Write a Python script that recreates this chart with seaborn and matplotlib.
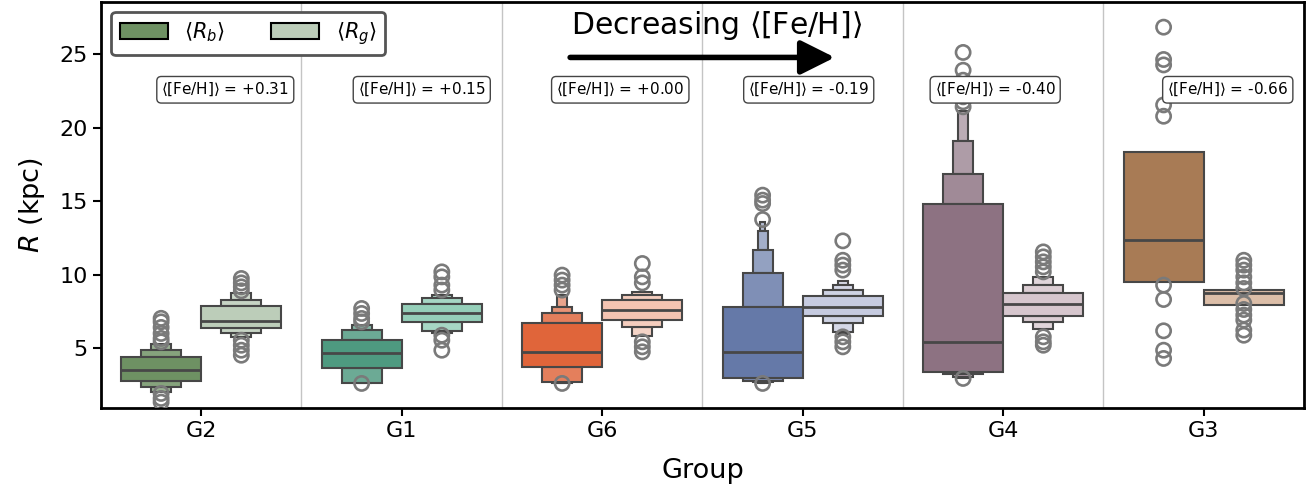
import numpy as np
import matplotlib.pyplot as plt
import seaborn as sns
from matplotlib.colors import to_rgb
from matplotlib.patches import Patch

# groups, ordered by decreasing mean metallicity
groups = ["G2", "G1", "G6", "G5", "G4", "G3"]
feh_labels = ["+0.31", "+0.15", "+0.00", "-0.19", "-0.40", "-0.66"]

colors_b = ["#6e9163", "#4e9a80", "#e0653a", "#6579a8", "#8d7282", "#a87b55"]
colors_g = ["#bccdb9", "#95cfb9", "#f4c4b2", "#c6cbe0", "#d6c6cd", "#dcbea8"]

# letter values (innermost box first)
rb_median = [3.50, 4.70, 4.73, 4.77, 5.41, 12.39]
rb_lower = [
    [2.78, 2.39, 2.05],
    [3.64, 2.66, 2.64],
    [3.75, 2.69, 2.66, 2.64],
    [2.96, 2.78, 2.72, 2.68, 2.65],
    [3.37, 3.25, 3.07, 3.00],
    [9.53],
]
rb_upper = [
    [4.43, 4.88, 5.27],
    [5.56, 6.24, 6.59],
    [6.70, 7.38, 7.83, 8.63],
    [7.79, 10.10, 11.69, 13.00, 13.61],
    [14.80, 16.84, 19.10, 21.14],
    [18.35],
]
rb_outliers = [
    [7.05, 6.81, 6.43, 6.02, 5.68, 5.45, 1.94, 1.60, 1.35],
    [7.72, 7.38, 7.04, 6.81, 2.62],
    [9.99, 9.65, 9.31, 8.97, 2.62],
    [15.43, 15.09, 14.86, 13.77, 2.62],
    [25.14, 23.93, 23.25, 22.12, 21.78, 21.44, 2.96],
    [26.86, 24.66, 24.29, 21.57, 20.80, 9.31, 8.33, 6.20, 4.88, 4.32],
]

rg_median = [6.88, 7.40, 7.65, 7.83, 8.01, 8.78]
rg_lower = [
    [6.36, 6.02, 5.75],
    [6.81, 6.18, 6.02],
    [6.93, 6.47, 5.84],
    [7.22, 6.70, 6.09, 5.95],
    [7.22, 6.77, 6.29],
    [7.95],
]
rg_upper = [
    [7.90, 8.29, 8.74],
    [8.01, 8.40, 8.63],
    [8.29, 8.63, 8.85],
    [8.56, 8.97, 9.35, 9.60],
    [8.74, 9.35, 9.87],
    [8.97],
]
rg_outliers = [
    [9.76, 9.46, 9.19, 8.92, 5.56, 5.22, 4.88, 4.54],
    [10.21, 9.87, 9.31, 8.97, 5.90, 5.56, 4.88],
    [10.78, 9.87, 9.46, 5.45, 5.11, 4.77],
    [12.32, 11.00, 10.67, 10.33, 5.79, 5.45, 5.11],
    [11.57, 11.23, 10.89, 10.55, 10.21, 5.79, 5.45, 5.22],
    [11.00, 10.67, 10.33, 9.87, 9.46, 9.08, 8.06, 7.65, 7.27, 6.93, 6.25, 5.90],
]

# where the [Fe/H] labels sit inside each group
label_x = [0.12, 1.10, 2.09, 3.03, 3.96, 5.12]

line_color = "#474747"
flier_color = "#7a7a7a"


def lighten(color, frac):
    c = np.array(to_rgb(color))
    light = np.array([0.96, 0.96, 0.96])
    return tuple(light + (c - light) * frac)


def draw_boxen(ax, x, lows, highs, median, fliers, color, width=0.4):
    shades = [1.0, 0.82, 0.68, 0.56, 0.46, 0.38]
    for lvl, (lo, hi) in enumerate(zip(lows, highs)):
        w = width * 0.5 ** lvl
        fc = lighten(color, shades[lvl])
        z = 3 - lvl * 0.1
        # inner box spans lo..hi, outer levels are split in two tails
        if lvl == 0:
            ax.bar(x, hi - lo, bottom=lo, width=w, color=fc,
                   edgecolor=line_color, linewidth=1.5, zorder=z)
        else:
            plo, phi = lows[lvl - 1], highs[lvl - 1]
            ax.bar(x, plo - lo, bottom=lo, width=w, color=fc,
                   edgecolor=line_color, linewidth=1.5, zorder=z)
            ax.bar(x, hi - phi, bottom=phi, width=w, color=fc,
                   edgecolor=line_color, linewidth=1.5, zorder=z)
    ax.plot([x - width / 2, x + width / 2], [median, median],
            color=line_color, lw=2, zorder=4, solid_capstyle="butt")
    ax.scatter(np.full(len(fliers), x), fliers, s=105, facecolors="none",
               edgecolors=flier_color, linewidths=1.9, zorder=5)


sns.set_style("ticks")
plt.rcParams["font.family"] = ["DejaVu Sans"]
plt.rcParams["text.color"] = "black"
plt.rcParams["axes.labelcolor"] = "black"
plt.rcParams["xtick.color"] = "black"
plt.rcParams["ytick.color"] = "black"

fig = plt.figure(figsize=(13.08, 4.95), dpi=100)
ax = fig.add_axes([0.0772, 0.1758, 0.9197, 0.821])

for i in range(len(groups)):
    draw_boxen(ax, i - 0.2, rb_lower[i], rb_upper[i], rb_median[i],
               rb_outliers[i], colors_b[i])
    draw_boxen(ax, i + 0.2, rg_lower[i], rg_upper[i], rg_median[i],
               rg_outliers[i], colors_g[i])
    ax.text(label_x[i], 22.6, r"$\langle$[Fe/H]$\rangle$ = " + feh_labels[i],
            ha="center", va="center", fontsize=11, zorder=6,
            bbox=dict(boxstyle="round,pad=0.3", fc="white", ec="#444444", lw=1))

for i in range(len(groups) - 1):
    ax.axvline(i + 0.5, color="#c4c4c4", lw=1, zorder=1)

ax.annotate("", xy=(3.16, 24.8), xytext=(1.84, 24.8),
            arrowprops=dict(arrowstyle="-|>", lw=4, color="black",
                            mutation_scale=52, shrinkA=0, shrinkB=0))
ax.text(2.57, 27.0, r"Decreasing $\langle$[Fe/H]$\rangle$", ha="center",
        va="center", fontsize=21.5)

ax.set_xlim(-0.5, 5.5)
ax.set_ylim(0.95, 28.6)
ax.set_xticks(range(len(groups)))
ax.set_xticklabels(groups)
ax.set_yticks([5, 10, 15, 20, 25])
ax.tick_params(labelsize=16, width=1.5, length=6, color="black")
ax.set_xlabel("Group", fontsize=19.5, labelpad=12)
ax.set_ylabel(r"$R$ (kpc)", fontsize=19.5, labelpad=9)
for sp in ax.spines.values():
    sp.set_linewidth(2)
    sp.set_color("black")

handles = [Patch(facecolor=colors_b[0], edgecolor="black", lw=1.5),
           Patch(facecolor=colors_g[0], edgecolor="black", lw=1.5)]
leg = ax.legend(handles, [r"$\langle R_b\rangle$", r"$\langle R_g\rangle$"],
                loc="upper left", ncol=2, fontsize=15, handlelength=2.3,
                handleheight=0.8, columnspacing=2.2, frameon=True,
                fancybox=True, framealpha=1, borderaxespad=0.5)
leg.get_frame().set_edgecolor("#555555")
leg.get_frame().set_linewidth(2)

fig.savefig("out.png", dpi=100)
